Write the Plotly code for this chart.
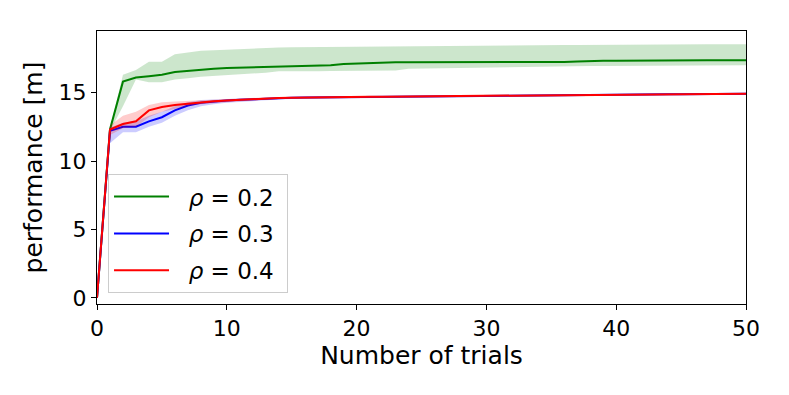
import plotly.graph_objs as go

trials = list(range(51))

green_mean = [0.0, 12.3, 15.8, 16.1, 16.2, 16.3, 16.5, 16.6, 16.65, 16.75, 16.8,
              16.82, 16.85, 16.88, 16.92, 16.94, 16.94, 16.95, 17.0, 17.09, 17.12,
              17.2, 17.2, 17.21, 17.21, 17.21, 17.21, 17.22, 17.22, 17.22, 17.22,
              17.23, 17.23, 17.23, 17.23, 17.24, 17.24, 17.28, 17.32, 17.32, 17.33,
              17.34, 17.37, 17.37, 17.37, 17.37, 17.37, 17.37, 17.37, 17.37, 17.37]
green_hi = [0.0, 12.4, 16.3, 16.65, 17.25, 17.25, 17.8, 17.95, 18.05, 18.1, 18.15,
            18.2, 18.23, 18.26, 18.3, 18.32, 18.33, 18.34, 18.35, 18.36, 18.37,
            18.38, 18.38, 18.39, 18.4, 18.4, 18.41, 18.42, 18.42, 18.43, 18.44,
            18.45, 18.45, 18.46, 18.46, 18.47, 18.48, 18.48, 18.49, 18.5, 18.5,
            18.5, 18.51, 18.51, 18.52, 18.52, 18.52, 18.53, 18.53, 18.53, 18.53]
green_lo = [0.0, 12.2, 14.0, 15.95, 15.75, 15.75, 15.95, 16.05, 16.15, 16.25, 16.3,
            16.35, 16.4, 16.45, 16.55, 16.55, 16.55, 16.56, 16.57, 16.58, 16.58,
            16.6, 16.6, 16.62, 16.75, 16.76, 16.78, 16.8, 16.82, 16.84, 16.85,
            16.86, 16.87, 16.88, 16.9, 16.9, 16.92, 16.93, 16.94, 16.95, 16.96,
            16.97, 16.98, 16.99, 17.0, 17.0, 17.0, 17.0, 17.0, 17.0, 17.0]

blue_mean = [0.0, 12.2, 12.5, 12.5, 12.9, 13.2, 13.7, 14.05, 14.25, 14.35, 14.42,
             14.47, 14.52, 14.56, 14.6, 14.62, 14.64, 14.65, 14.66, 14.67, 14.68,
             14.69, 14.7, 14.71, 14.72, 14.73, 14.74, 14.75, 14.76, 14.77, 14.78,
             14.79, 14.8, 14.8, 14.81, 14.82, 14.82, 14.83, 14.84, 14.84, 14.85,
             14.86, 14.86, 14.87, 14.88, 14.88, 14.89, 14.9, 14.9, 14.91, 14.92]
blue_lo = [0.0, 11.3, 12.1, 12.1, 12.5, 12.8, 13.3, 13.7, 14.0, 14.15, 14.25,
           14.32, 14.4, 14.45, 14.5, 14.53, 14.58, 14.59, 14.6, 14.61, 14.62,
           14.63, 14.64, 14.65, 14.66, 14.67, 14.68, 14.69, 14.7, 14.71, 14.72,
           14.73, 14.74, 14.74, 14.75, 14.76, 14.76, 14.77, 14.78, 14.78, 14.79,
           14.8, 14.8, 14.81, 14.82, 14.82, 14.83, 14.84, 14.84, 14.85, 14.86]
blue_hi = [0.0, 12.45, 12.8, 12.9, 13.3, 13.6, 14.0, 14.3, 14.45, 14.5, 14.55,
           14.58, 14.6, 14.63, 14.66, 14.68, 14.69, 14.7, 14.71, 14.72, 14.73,
           14.74, 14.75, 14.76, 14.77, 14.78, 14.79, 14.8, 14.81, 14.82, 14.83,
           14.84, 14.85, 14.85, 14.86, 14.87, 14.87, 14.88, 14.89, 14.89, 14.9,
           14.91, 14.91, 14.92, 14.93, 14.93, 14.94, 14.95, 14.95, 14.96, 14.97]

red_mean = [0.0, 12.3, 12.7, 12.9, 13.7, 13.95, 14.1, 14.2, 14.3, 14.37, 14.43,
            14.48, 14.53, 14.57, 14.6, 14.62, 14.64, 14.65, 14.66, 14.67, 14.68,
            14.69, 14.7, 14.71, 14.72, 14.73, 14.74, 14.75, 14.76, 14.77, 14.78,
            14.79, 14.8, 14.8, 14.81, 14.82, 14.82, 14.83, 14.84, 14.84, 14.85,
            14.86, 14.86, 14.87, 14.88, 14.88, 14.89, 14.9, 14.9, 14.91, 14.92]
red_lo = [0.0, 11.9, 12.4, 12.5, 13.2, 13.6, 13.8, 14.0, 14.15, 14.22, 14.3,
          14.37, 14.43, 14.48, 14.53, 14.56, 14.59, 14.6, 14.61, 14.62, 14.63,
          14.64, 14.65, 14.66, 14.67, 14.68, 14.69, 14.7, 14.71, 14.72, 14.73,
          14.74, 14.75, 14.75, 14.76, 14.77, 14.77, 14.78, 14.79, 14.79, 14.8,
          14.81, 14.81, 14.82, 14.83, 14.83, 14.84, 14.85, 14.85, 14.86, 14.87]
red_hi = [0.0, 12.6, 13.3, 13.6, 14.1, 14.3, 14.35, 14.4, 14.45, 14.5, 14.55,
          14.58, 14.62, 14.65, 14.68, 14.7, 14.69, 14.7, 14.71, 14.72, 14.73,
          14.74, 14.75, 14.76, 14.77, 14.78, 14.79, 14.8, 14.81, 14.82, 14.83,
          14.84, 14.85, 14.85, 14.86, 14.87, 14.87, 14.88, 14.89, 14.89, 14.9,
          14.91, 14.91, 14.92, 14.93, 14.93, 14.94, 14.95, 14.95, 14.96, 14.97]

labels = ['<i>ρ</i> = 0.2', '<i>ρ</i> = 0.3', '<i>ρ</i> = 0.4']

series = [
    (labels[0], green_mean, green_lo, green_hi, '#008000', 'rgba(0,128,0,0.2)'),
    (labels[1], blue_mean, blue_lo, blue_hi, '#0000ff', 'rgba(0,0,255,0.2)'),
    (labels[2], red_mean, red_lo, red_hi, '#ff0000', 'rgba(255,0,0,0.2)'),
]

data = []
for i, (name, mean, lo, hi, color, fill) in enumerate(series):
    data.append(go.Scatter(
        x=trials + trials[::-1], y=hi + lo[::-1], fill='toself',
        fillcolor=fill, line=dict(width=0), mode='lines',
        showlegend=False, hoverinfo='skip'))
    # padding with nbsp so the legend box is as roomy as matplotlib's
    data.append(go.Scatter(
        x=trials, y=mean, mode='lines', name='&nbsp;&nbsp;' + name + '&nbsp;',
        legendgroup='g%d' % i, line=dict(color=color, width=2)))

axis_style = dict(showline=True, linecolor='black', linewidth=1, mirror=True,
                  ticks='outside', ticklen=5, tickcolor='black',
                  showgrid=False, zeroline=False, automargin=False,
                  tickfont=dict(size=22, color='black'))

# the page body adds 8px, so margins are a bit smaller on left/top
layout = go.Layout(
    width=789, height=395,
    margin=dict(l=89, r=51, t=23, b=99),
    paper_bgcolor='white', plot_bgcolor='white',
    font=dict(family='DejaVu Sans', size=21, color='black'),
    xaxis=dict(range=[0, 50], tickvals=[0, 10, 20, 30, 40, 50],
               title=dict(text='Number of trials', standoff=4), **axis_style),
    yaxis=dict(range=[-0.45, 19.5], tickvals=[0, 5, 10, 15],
               title=dict(text='performance [m]', standoff=8), **axis_style),
    legend=dict(x=0.017, y=0.04, xanchor='left', yanchor='bottom',
                bgcolor='rgba(255,255,255,0.8)', bordercolor='#cccccc',
                borderwidth=1, tracegroupgap=4, itemwidth=55,
                font=dict(size=23)),
    showlegend=True,
)

fig = go.Figure(data=data, layout=layout)
fig.write_html('out.html')
